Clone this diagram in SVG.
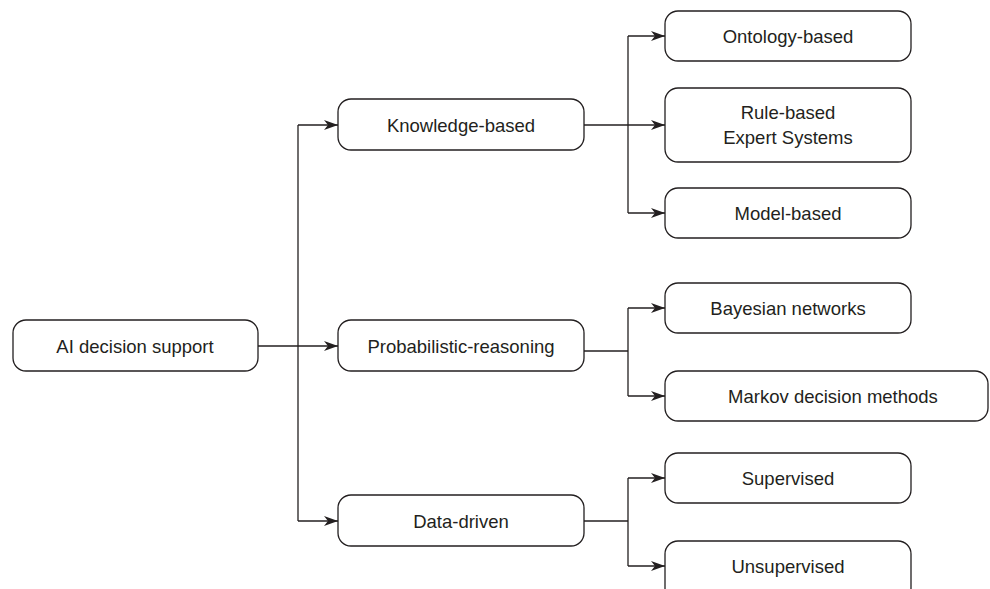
<svg xmlns="http://www.w3.org/2000/svg" width="990" height="589" viewBox="0 0 990 589">
<style>
.box{fill:#fff;stroke:#231f20;stroke-width:1.3}
.t{font-family:"Liberation Sans",Arial,sans-serif;font-size:18.5px;fill:#231f20;text-anchor:middle;dominant-baseline:central}
.c{fill:none;stroke:#231f20;stroke-width:1.3}
</style>
<defs>
<marker id="ah" viewBox="0 0 14 10" refX="14" refY="5" markerWidth="14" markerHeight="10" markerUnits="userSpaceOnUse" orient="auto">
<path d="M0,0 L14,5 L0,10 L4,5 Z" fill="#231f20"/>
</marker>
</defs>
<g id="connectors">
<path class="c" d="M258,346 H338" marker-end="url(#ah)"/>
<path class="c" d="M298,125 V521"/>
<path class="c" d="M298,125 H338" marker-end="url(#ah)"/>
<path class="c" d="M298,521 H338" marker-end="url(#ah)"/>
<path class="c" d="M584,125 H665" marker-end="url(#ah)"/>
<path class="c" d="M628,36 V213"/>
<path class="c" d="M628,36 H665" marker-end="url(#ah)"/>
<path class="c" d="M628,213 H665" marker-end="url(#ah)"/>
<path class="c" d="M584,351 H628"/>
<path class="c" d="M628,308 V396"/>
<path class="c" d="M628,308 H665" marker-end="url(#ah)"/>
<path class="c" d="M628,396 H665" marker-end="url(#ah)"/>
<path class="c" d="M584,521 H628"/>
<path class="c" d="M628,478 V566"/>
<path class="c" d="M628,478 H665" marker-end="url(#ah)"/>
<path class="c" d="M628,566 H665" marker-end="url(#ah)"/>
</g>
<g id="root"><rect class="box" x="13" y="320" width="245" height="51" rx="13"/><text class="t" x="135" y="346">AI decision support</text></g>
<g id="knowledge"><rect class="box" x="338" y="99" width="246" height="51" rx="13"/><text class="t" x="461" y="125">Knowledge-based</text></g>
<g id="probabilistic"><rect class="box" x="338" y="320" width="246" height="51" rx="13"/><text class="t" x="461" y="346">Probabilistic-reasoning</text></g>
<g id="datadriven"><rect class="box" x="338" y="495" width="246" height="51" rx="13"/><text class="t" x="461" y="521">Data-driven</text></g>
<g id="ontology"><rect class="box" x="665" y="11" width="246" height="50" rx="13"/><text class="t" x="788" y="36">Ontology-based</text></g>
<g id="rule"><rect class="box" x="665" y="88" width="246" height="74" rx="13"/><text class="t" x="788" y="112">Rule-based</text><text class="t" x="788" y="137">Expert Systems</text></g>
<g id="model"><rect class="box" x="665" y="188" width="246" height="50" rx="13"/><text class="t" x="788" y="213">Model-based</text></g>
<g id="bayesian"><rect class="box" x="665" y="283" width="246" height="50" rx="13"/><text class="t" x="788" y="308">Bayesian networks</text></g>
<g id="markov"><rect class="box" x="665" y="371" width="323" height="50" rx="13"/><text class="t" x="833" y="396">Markov decision methods</text></g>
<g id="supervised"><rect class="box" x="665" y="453" width="246" height="50" rx="13"/><text class="t" x="788" y="478">Supervised</text></g>
<g id="unsupervised"><rect class="box" x="665" y="541" width="246" height="60" rx="13"/><text class="t" x="788" y="566">Unsupervised</text></g>
</svg>
